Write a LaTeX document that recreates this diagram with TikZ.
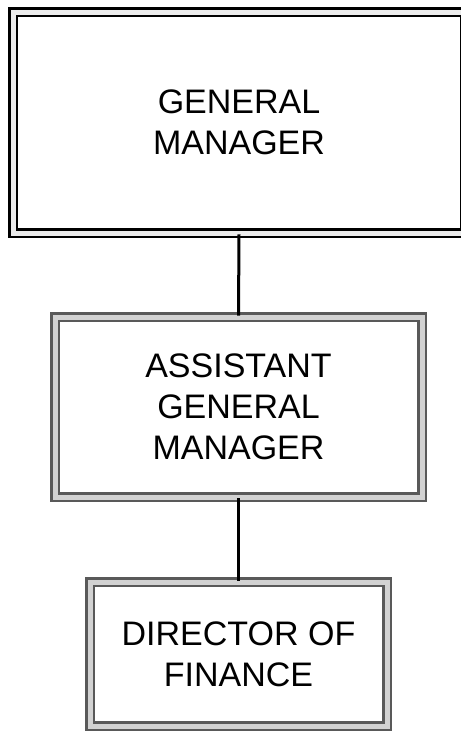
\documentclass[tikz,border=0pt]{standalone}
\usepackage{fontspec}
\setmainfont{Liberation Sans}
\usepackage{tikz}

\tikzset{
	post/.style 2 args={draw=#1, line width=2.6pt, double=#2, double distance=5pt,
		rectangle, inner sep=0pt, align=center,
		font=\fontsize{34}{41}\selectfont},
	link/.style={line width=3pt, black}
}

\begin{document}
\begin{tikzpicture}[x=1pt,y=-1pt]
					% Fix the frame of the page
					\useasboundingbox (0,0) rectangle (461,732);
					
					% Draw the box of the general manager
					\node[post={black}{gray!15}, minimum width=452pt, minimum height=221pt] (gm) at (239,122.5) {GENERAL\\MANAGER};
					
					% Draw the box of the assistant general manager
					\node[post={black!65}{gray!35}, minimum width=367pt, minimum height=180pt] (agm) at (238.5,407) {ASSISTANT\\GENERAL\\MANAGER};
					
					% Draw the box of the director of finance
					\node[post={black!65}{gray!35}, minimum width=297pt, minimum height=144pt] (dof) at (238.5,654) {DIRECTOR OF\\FINANCE};
					
					% Draw lines between the boxes
					\draw[link] (gm.south) -- (agm.north);
					\draw[link] (agm.south) -- (dof.north);
					\end{tikzpicture}
\end{document}
